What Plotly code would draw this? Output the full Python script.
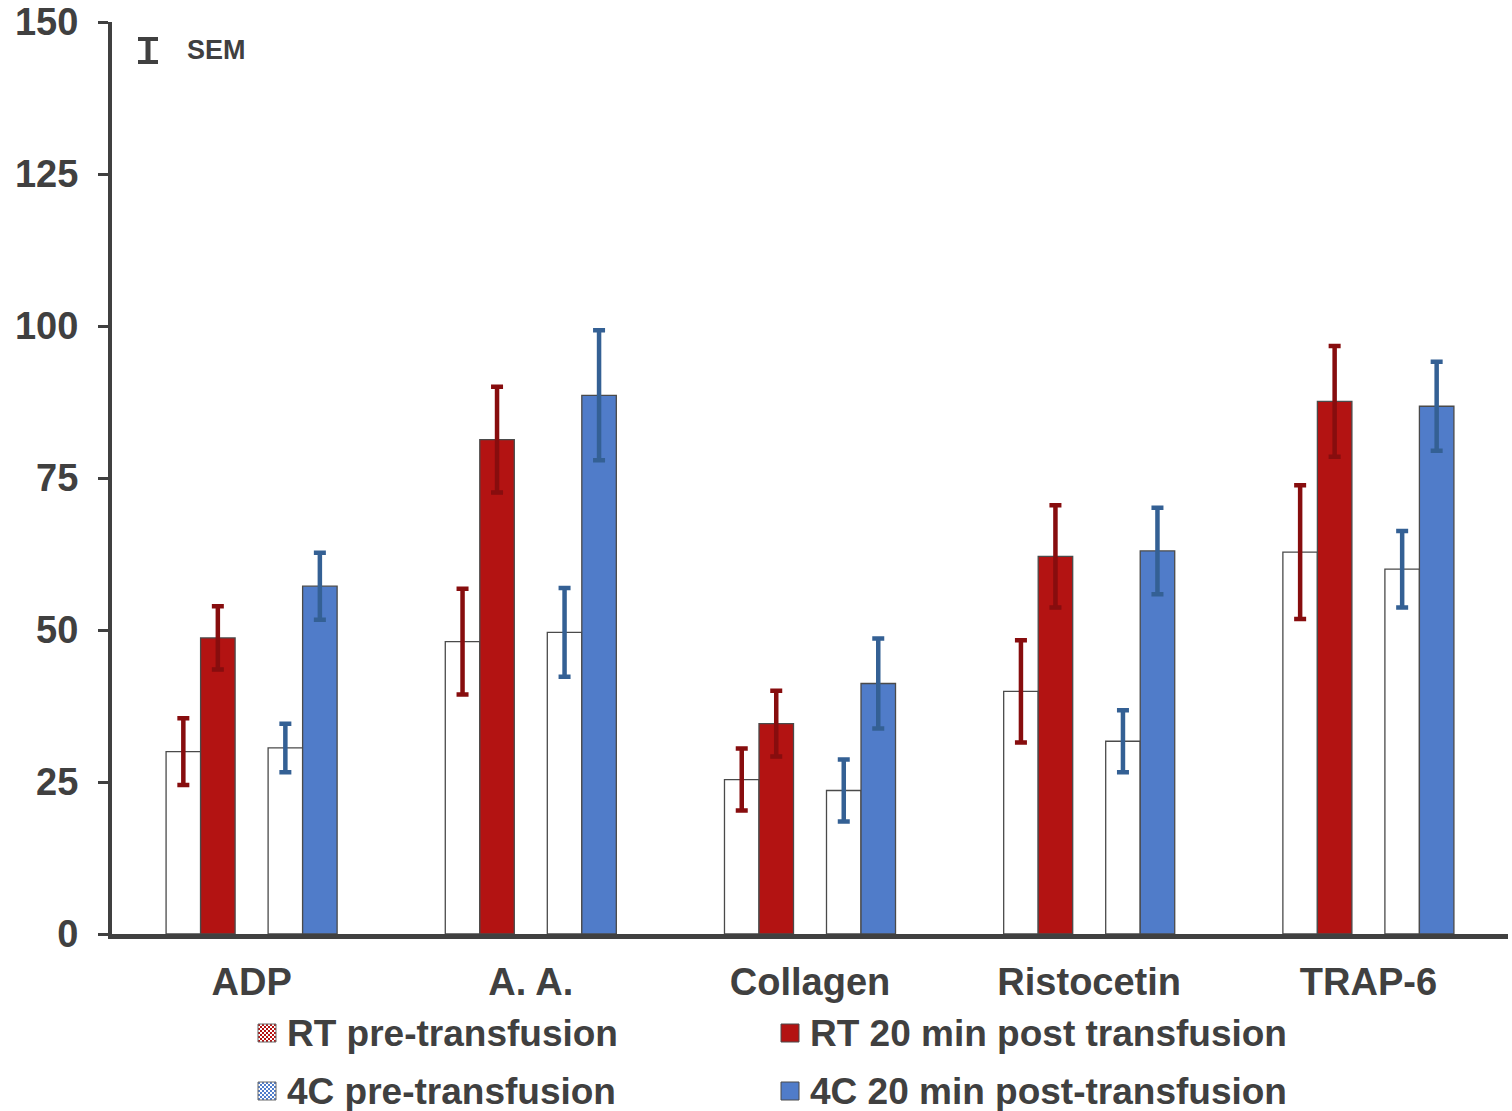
import plotly.graph_objects as go

# Agonists on the category axis
categories = ["ADP", "A. A.", "Collagen", "Ristocetin", "TRAP-6"]

# Mean aggregation values and SEM for each group
rt_pre = [30.0, 48.1, 25.4, 39.9, 62.8]
rt_pre_sem = [5.5, 8.7, 5.1, 8.4, 11.0]
rt_post = [48.7, 81.3, 34.6, 62.1, 87.6]
rt_post_sem = [5.2, 8.7, 5.4, 8.4, 9.1]
c4_pre = [30.6, 49.6, 23.6, 31.7, 60.0]
c4_pre_sem = [4.0, 7.3, 5.1, 5.1, 6.3]
c4_post = [57.2, 88.6, 41.2, 63.0, 86.8]
c4_post_sem = [5.5, 10.7, 7.4, 7.1, 7.3]

series_names = [
    "RT pre-transfusion",
    "RT 20 min post transfusion",
    "4C pre-transfusion",
    "4C 20 min post-transfusion",
]

y_ticks = [0, 25, 50, 75, 100, 125, 150]

# Figure geometry (pixels)
W, H = 1512, 1111
L, R, T, B = 112, 4, 22, 177
PW, PH = W - L - R, H - T - B

TEXT = "#404040"
RED = "#B31312"
RED_ERR = "#870D0E"
BLUE = "#507CC9"
BLUE_ERR = "#346094"
FONT = "Liberation Sans, Arial, sans-serif"

# Bar width and spacing in category units
bw = 0.1236
pair_gap = 0.1182
offsets = [-pair_gap / 2 - 2 * bw, -pair_gap / 2 - bw, pair_gap / 2, pair_gap / 2 + bw]

series = [
    (rt_pre, rt_pre_sem, "white", RED_ERR),
    (rt_post, rt_post_sem, RED, RED_ERR),
    (c4_pre, c4_pre_sem, "white", BLUE_ERR),
    (c4_post, c4_post_sem, BLUE, BLUE_ERR),
]

fig = go.Figure()
for (vals, sem, fill, ecol), off, name in zip(series, offsets, series_names):
    fig.add_trace(go.Bar(
        x=categories, y=vals, name=name, width=bw, offset=off,
        marker=dict(color=fill, line=dict(color="#4a4a4a", width=1.3)),
        error_y=dict(type="data", array=sem, visible=True,
                     color=ecol, thickness=4.5, width=6),
        showlegend=False,
    ))


def px(x):
    return (x - L) / PW


def py(y):
    return (H - B - y) / PH


shapes = []
annotations = []

# SEM key glyph (I-beam) and label
shapes.append(dict(type="line", xref="paper", yref="paper",
                   x0=px(148), x1=px(148), y0=py(38), y1=py(63),
                   line=dict(color=TEXT, width=5)))
for yy in (39, 62):
    shapes.append(dict(type="line", xref="paper", yref="paper",
                       x0=px(138), x1=px(158), y0=py(yy), y1=py(yy),
                       line=dict(color=TEXT, width=4)))
annotations.append(dict(text="SEM", xref="paper", yref="paper",
                        x=px(185), y=py(50), xanchor="left", yanchor="middle",
                        showarrow=False,
                        font=dict(family=FONT, size=27, color=TEXT, weight="bold")))

# Legend: two columns, two rows
legend_items = [
    (series_names[0], 258, 1033, "check", RED),
    (series_names[1], 781, 1033, "solid", RED),
    (series_names[2], 258, 1091, "check", BLUE),
    (series_names[3], 781, 1091, "solid", BLUE),
]
sw = 18
for name, x0, yc, kind, col in legend_items:
    top = yc - sw / 2
    if kind == "solid":
        shapes.append(dict(type="rect", xref="paper", yref="paper",
                           x0=px(x0), x1=px(x0 + sw), y0=py(top + sw), y1=py(top),
                           fillcolor=col, line=dict(color="#4a4a4a", width=1)))
    else:
        cell = 2
        n = sw // cell
        shapes.append(dict(type="rect", xref="paper", yref="paper",
                           x0=px(x0), x1=px(x0 + sw), y0=py(top + sw), y1=py(top),
                           fillcolor="white", line=dict(width=0)))
        for i in range(n):
            for j in range(n):
                if (i + j) % 2 == 0:
                    cx, cy = x0 + i * cell, top + j * cell
                    shapes.append(dict(type="rect", xref="paper", yref="paper",
                                       x0=px(cx), x1=px(cx + cell),
                                       y0=py(cy + cell), y1=py(cy),
                                       fillcolor=col, line=dict(width=0)))
        shapes.append(dict(type="rect", xref="paper", yref="paper",
                           x0=px(x0), x1=px(x0 + sw), y0=py(top + sw), y1=py(top),
                           fillcolor="rgba(0,0,0,0)", line=dict(color="#6a6a6a", width=1)))
    annotations.append(dict(text=name, xref="paper", yref="paper",
                            x=px(x0 + 27), y=py(yc), xanchor="left", yanchor="middle",
                            showarrow=False,
                            font=dict(family=FONT, size=37, color=TEXT, weight="bold")))

fig.update_layout(
    width=W, height=H,
    margin=dict(l=L, r=R, t=T, b=B, autoexpand=False),
    paper_bgcolor="white", plot_bgcolor="white",
    barmode="overlay",
    showlegend=False,
    shapes=shapes,
    annotations=annotations,
    xaxis=dict(
        type="category", range=[-0.5, 4.5],
        showline=True, linecolor=TEXT, linewidth=5,
        ticks="", showgrid=False, zeroline=False,
        tickfont=dict(family=FONT, size=38, color=TEXT, weight="bold"),
        ticklabelstandoff=10,
    ),
    yaxis=dict(
        range=[0, 150], tickvals=y_ticks,
        showline=True, linecolor=TEXT, linewidth=4,
        ticks="outside", ticklen=10, tickwidth=3, tickcolor=TEXT,
        showgrid=False, zeroline=False,
        tickfont=dict(family=FONT, size=38, color=TEXT, weight="bold"),
        ticklabelstandoff=12,
    ),
)

fig.write_html("out.html")
